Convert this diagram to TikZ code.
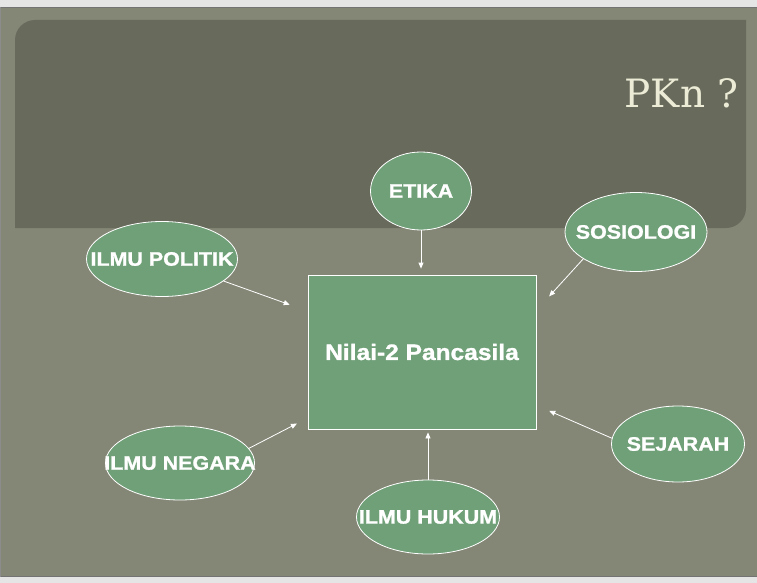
\documentclass[tikz,border=0pt]{standalone}
\usepackage{fontspec}
\setmainfont{Liberation Sans}
\newfontfamily\labelfont[FakeStretch=1.1,FakeBold=1.2]{Liberation Sans}
\newfontfamily\titlefont{DejaVu Serif}
\usetikzlibrary{shapes.geometric,arrows.meta}
\definecolor{slide}{RGB}{133,135,118}
\definecolor{band}{RGB}{104,106,92}
\definecolor{daun}{RGB}{111,160,119}
\definecolor{krem}{RGB}{236,236,214}
\newcommand{\lbl}[1]{\makebox[0pt]{#1}}

\begin{document}
\begin{tikzpicture}[x=1pt,y=-1pt,
  topik/.style={ellipse,draw=white,line width=0.8pt,fill=daun,inner sep=0pt,text=white,
    font=\labelfont\bfseries\fontsize{19.5}{19.5}\selectfont},
  kotak/.style={rectangle,draw=white,line width=0.8pt,fill=daun,inner sep=0pt,text=white,
    font=\labelfont\bfseries\fontsize{22.3}{22.3}\selectfont},
  panah/.style={draw=white,line width=0.8pt,-{Triangle[length=6pt,width=5pt]}}]
\useasboundingbox (0,0) rectangle (757,583);

\fill[black!10] (0,0) rectangle (757,583);
\fill[slide] (0,7) rectangle (757,577);
\draw[black!55,line width=1pt] (0,7.5) -- (757,7.5);
\draw[black!55,line width=1pt] (0,576.5) -- (757,576.5);
\draw[black!45,line width=1pt] (0.5,7) -- (0.5,577);
\fill[band] (15,228) [rounded corners=20pt] -- (15,20) [sharp corners] -- (746,20)
  [rounded corners=20pt] -- (746,228) [sharp corners] -- cycle;

\node[font=\titlefont\fontsize{39}{39}\selectfont,text=krem,anchor=base east] (judul) at (742,107) {PKn ?};

\node[kotak,minimum width=228pt,minimum height=154pt] (nilai) at (422,352) {Nilai-2 Pancasila};

\node[topik,minimum width=101pt,minimum height=78pt] (etika) at (421,191) {\lbl{ETIKA}};
\node[topik,minimum width=142pt,minimum height=79pt] (sosiologi) at (636,232) {\lbl{SOSIOLOGI}};
\node[topik,minimum width=151pt,minimum height=75pt] (politik) at (162,259) {\lbl{ILMU POLITIK}};
\node[topik,minimum width=133pt,minimum height=76pt] (sejarah) at (678,444) {\lbl{SEJARAH}};
\node[topik,minimum width=149pt,minimum height=74pt] (negara) at (180,463) {\lbl{ILMU NEGARA}};
\node[topik,minimum width=143pt,minimum height=74pt] (hukum) at (428,517) {\lbl{ILMU HUKUM}};

\draw[panah,shorten >=6pt] (etika) -- (etika |- nilai.north);
\draw[panah,shorten >=19pt] (politik) -- (nilai);
\draw[panah,shorten >=19pt] (sosiologi.207) -- (nilai.20);
\draw[panah,shorten >=14pt] (sejarah.175) -- (nilai.-25);
\draw[panah,shorten >=12pt] (negara.12) -- (nilai.210);
\draw[panah,shorten >=3pt] (hukum) -- (hukum |- nilai.south);
\end{tikzpicture}
\end{document}
